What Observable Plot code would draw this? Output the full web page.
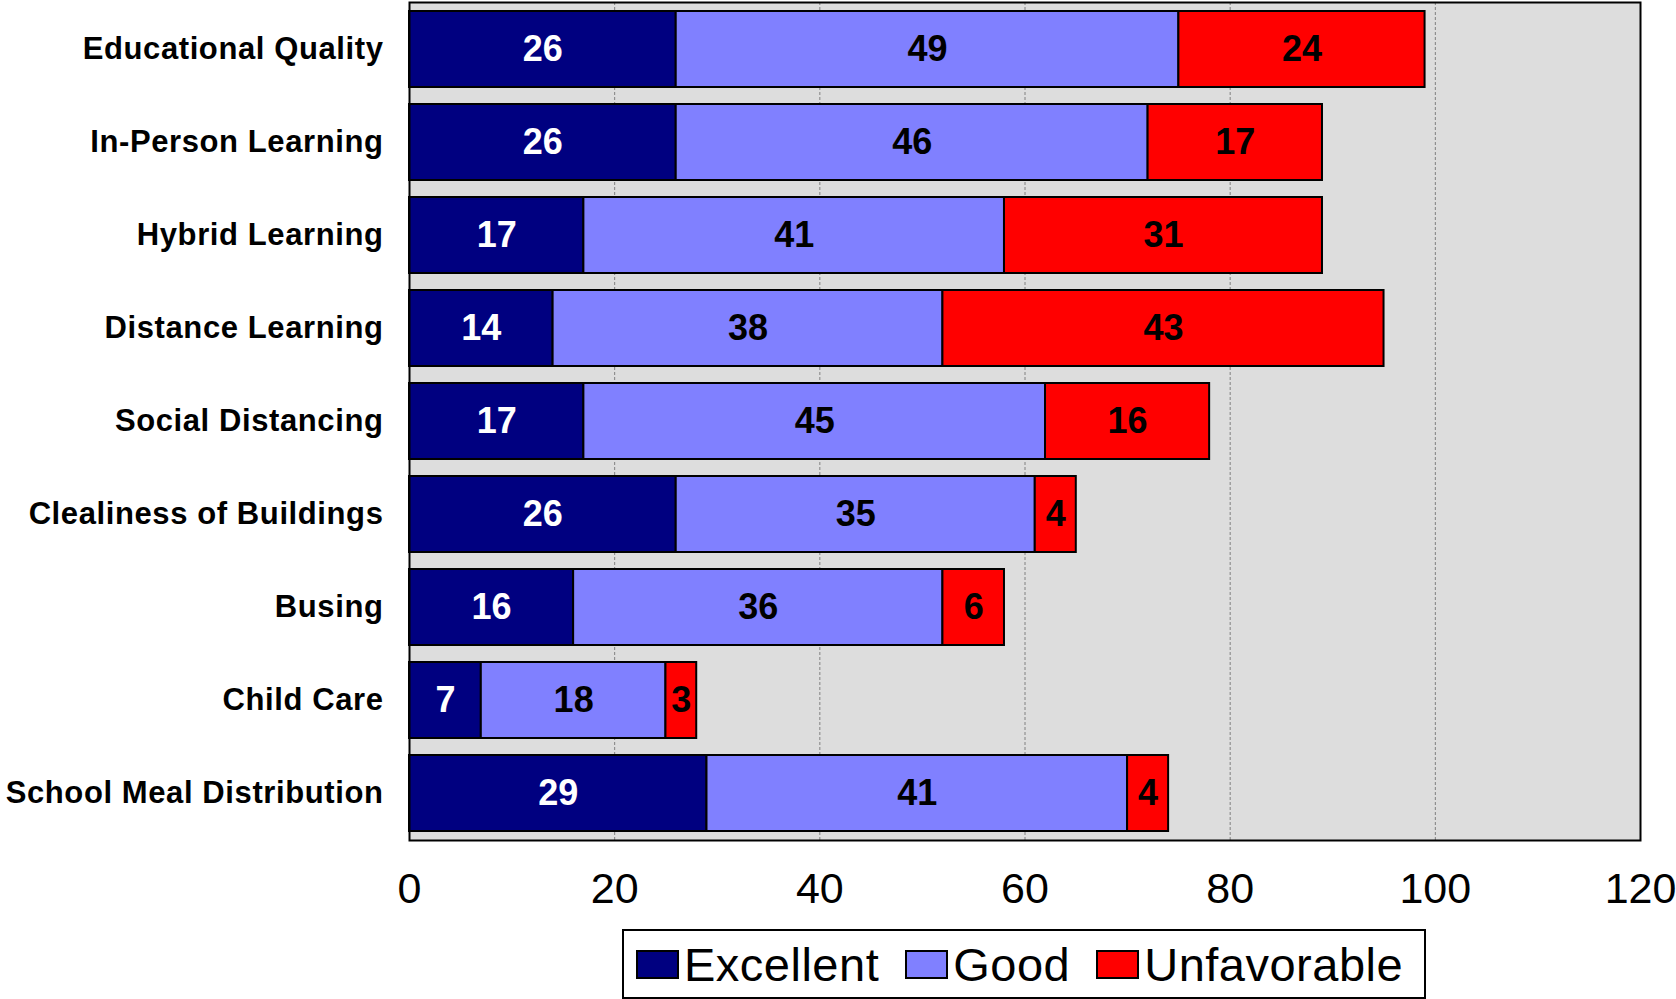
<!DOCTYPE html>
<html>
<head>
<meta charset="utf-8">
<script src="https://cdn.jsdelivr.net/npm/d3@7"></script>
<script src="https://cdn.jsdelivr.net/npm/@observablehq/plot@0.6"></script>
<style>
  html, body { margin: 0; padding: 0; background: #fff; }
  #wrap { position: relative; width: 1676px; height: 999px; font-family: Arial, "Liberation Sans", sans-serif; }
  #legend {
    position: absolute; left: 622px; top: 929px; width: 804px; height: 70px;
    box-sizing: border-box; border: 2px solid #000; background: #fff;
    display: flex; align-items: center; padding-left: 12px;
    font-size: 47px; letter-spacing: 0.5px; color: #000;
  }
  .item { display: flex; align-items: center; margin-right: 26px; }
  .sw { width: 43px; height: 29px; box-sizing: border-box; border: 2px solid #000; margin-right: 5px; }
</style>
</head>
<body>
<div id="wrap"></div>
<script>
const categories = ["Educational Quality", "In-Person Learning", "Hybrid Learning", "Distance Learning", "Social Distancing", "Clealiness of Buildings", "Busing", "Child Care", "School Meal Distribution"];
const seriesNames = ["Excellent", "Good", "Unfavorable"];
const seriesColors = ["#000080", "#8080FF", "#FF0000"];
const excellent = [26, 26, 17, 14, 17, 26, 16, 7, 29];
const good = [49, 46, 41, 38, 45, 35, 36, 18, 41];
const unfavorable = [24, 17, 31, 43, 16, 4, 6, 3, 4];
const xTicks = [0, 20, 40, 60, 80, 100, 120];
const gridTicks = [20, 40, 60, 80, 100];

const seriesValues = [excellent, good, unfavorable];
const data = [];
categories.forEach((c, i) => {
  seriesNames.forEach((s, j) => data.push({category: c, series: s, value: seriesValues[j][i]}));
});

const font = 'Arial, "Liberation Sans", sans-serif';
const stackOpts = {x: "value", y: "category", z: "series", order: seriesNames};

const chart = Plot.plot({
  width: 1676,
  height: 920,
  marginLeft: 409,
  marginRight: 36,
  marginTop: 2,
  marginBottom: 80,
  style: {fontFamily: font, background: "#fff", color: "#000"},
  x: {domain: [0, 120], label: null},
  y: {domain: categories, label: null, paddingInner: 0.18, paddingOuter: 0.06},
  color: {domain: seriesNames, range: seriesColors},
  marks: [
    Plot.frame({fill: "#DDDDDD"}),
    Plot.ruleX(gridTicks, {stroke: "#808080", strokeWidth: 1, strokeDasharray: "3,2"}),
    Plot.barX(data, Plot.stackX({...stackOpts, fill: "series", stroke: "#000", strokeWidth: 2})),
    Plot.text(data, Plot.stackX({...stackOpts, text: d => d.series === "Excellent" ? String(d.value) : "", fill: "#fff", fontSize: 36, fontWeight: "bold"})),
    Plot.text(data, Plot.stackX({...stackOpts, text: d => d.series === "Excellent" ? "" : String(d.value), fill: "#000", fontSize: 36, fontWeight: "bold"})),
    Plot.frame({stroke: "#000", strokeWidth: 2}),
    Plot.axisX({ticks: xTicks, tickSize: 0, tickPadding: 32, fontSize: 43, label: null, tickFormat: d => String(d)}),
    Plot.axisY({tickSize: 0, tickPadding: 26, fontSize: 31, fontWeight: "bold", label: null})
  ]
});

const wrap = document.getElementById("wrap");
wrap.appendChild(chart);
chart.querySelectorAll('g[aria-label="y-axis tick label"] text').forEach(t => t.style.letterSpacing = "0.6px");

const legend = document.createElement("div");
legend.id = "legend";
seriesNames.forEach((s, j) => {
  const item = document.createElement("div");
  item.className = "item";
  const sw = document.createElement("div");
  sw.className = "sw";
  sw.style.background = seriesColors[j];
  const t = document.createElement("span");
  t.textContent = s;
  item.appendChild(sw);
  item.appendChild(t);
  legend.appendChild(item);
});
wrap.appendChild(legend);
</script>
</body>
</html>
